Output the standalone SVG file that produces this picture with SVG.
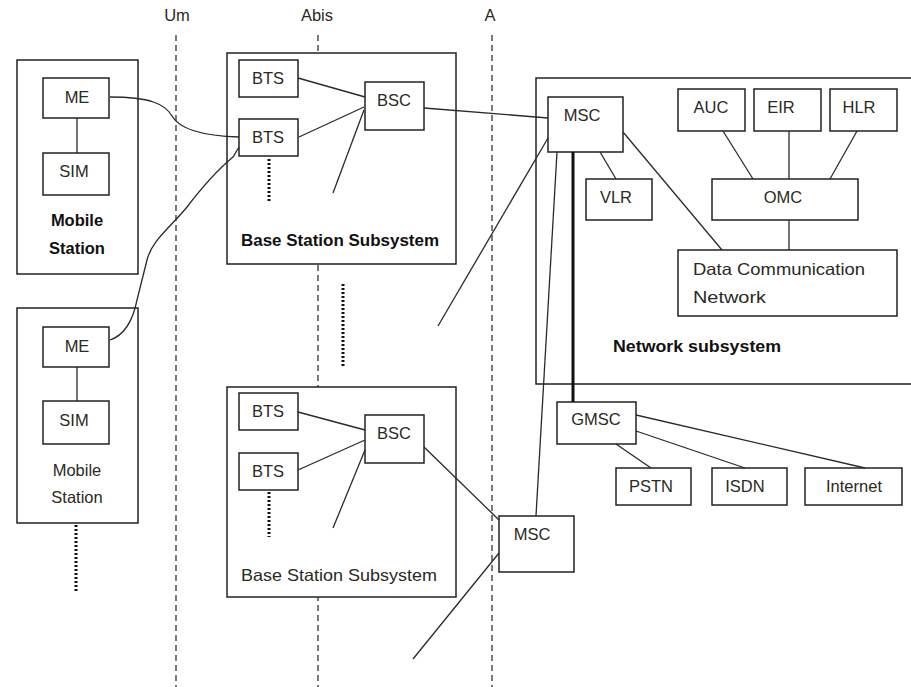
<svg xmlns="http://www.w3.org/2000/svg" width="911" height="687" viewBox="0 0 911 687">
<style>
.b{fill:#fff;stroke:#222;stroke-width:1.5}
.c{fill:none;stroke:#2a2a2a;stroke-width:1.3}
.d{fill:none;stroke:#222;stroke-width:1.2;stroke-dasharray:6 4}
.k{fill:none;stroke:#111;stroke-width:3;stroke-dasharray:2 2}
text{font-family:"Liberation Sans",Arial,sans-serif;font-size:16.5px;fill:#2a2a22}
.m{text-anchor:middle}
.bold{font-weight:bold;fill:#111}
</style>
<rect width="911" height="687" fill="#fff"/>
<g id="interfaces">
<line class="d" x1="176" y1="35" x2="176" y2="687"/>
<line class="d" x1="318" y1="35" x2="318" y2="687"/>
<line class="d" x1="492" y1="35" x2="492" y2="687"/>
<text class="m" x="177" y="21">Um</text>
<text class="m" x="317" y="21">Abis</text>
<text class="m" x="490" y="21">A</text>
</g>
<g id="ms1">
<rect class="b" x="17" y="60" width="121" height="214"/>
<text class="m bold" x="77" y="226">Mobile</text>
<text class="m bold" x="77" y="254">Station</text>
</g>
<g id="me1"><rect class="b" x="43" y="78" width="66" height="40"/><text class="m" x="77" y="103">ME</text></g>
<g id="sim1"><rect class="b" x="43" y="153" width="66" height="42"/><text class="m" x="74" y="177">SIM</text></g>
<g id="ms2">
<rect class="b" x="17" y="308" width="121" height="215"/>
<text class="m" x="77" y="476">Mobile</text>
<text class="m" x="77" y="503">Station</text>
</g>
<g id="me2"><rect class="b" x="43" y="327" width="66" height="40"/><text class="m" x="77" y="352">ME</text></g>
<g id="sim2"><rect class="b" x="43" y="401" width="66" height="43"/><text class="m" x="74" y="426">SIM</text></g>
<g id="bss1">
<rect class="b" x="227" y="53" width="229" height="211"/>
<text class="bold" x="241" y="246" textLength="198" lengthAdjust="spacingAndGlyphs">Base Station Subsystem</text>
</g>
<g id="bts1"><rect class="b" x="239" y="60" width="59" height="37"/><text class="m" x="268" y="84">BTS</text></g>
<g id="bts2"><rect class="b" x="239" y="119" width="59" height="37"/><text class="m" x="268" y="143">BTS</text></g>
<g id="bsc1"><rect class="b" x="365" y="82" width="59" height="48"/><text class="m" x="394" y="106">BSC</text></g>
<g id="bss2">
<rect class="b" x="227" y="387" width="229" height="210"/>
<text x="241" y="581" textLength="196" lengthAdjust="spacingAndGlyphs">Base Station Subsystem</text>
</g>
<g id="bts3"><rect class="b" x="239" y="393" width="59" height="37"/><text class="m" x="268" y="417">BTS</text></g>
<g id="bts4"><rect class="b" x="239" y="453" width="59" height="37"/><text class="m" x="268" y="477">BTS</text></g>
<g id="bsc2"><rect class="b" x="365" y="415" width="59" height="48"/><text class="m" x="394" y="439">BSC</text></g>
<g id="nss">
<rect class="b" x="536" y="78" width="380" height="306"/>
<text class="bold" x="613" y="352" textLength="168" lengthAdjust="spacingAndGlyphs">Network subsystem</text>
</g>
<g id="msc1"><rect class="b" x="548" y="97" width="75" height="55"/><text class="m" x="582" y="121">MSC</text></g>
<g id="vlr"><rect class="b" x="586" y="179" width="66" height="41"/><text class="m" x="616" y="203">VLR</text></g>
<g id="auc"><rect class="b" x="678" y="89" width="67" height="42"/><text class="m" x="711" y="113">AUC</text></g>
<g id="eir"><rect class="b" x="754" y="89" width="67" height="42"/><text class="m" x="781" y="113">EIR</text></g>
<g id="hlr"><rect class="b" x="830" y="89" width="67" height="42"/><text class="m" x="859" y="113">HLR</text></g>
<g id="omc"><rect class="b" x="712" y="179" width="146" height="41"/><text class="m" x="783" y="203">OMC</text></g>
<g id="dcn">
<rect class="b" x="678" y="250" width="219" height="66"/>
<text x="693" y="275" textLength="172" lengthAdjust="spacingAndGlyphs">Data Communication</text>
<text x="693" y="303" textLength="73" lengthAdjust="spacingAndGlyphs">Network</text>
</g>
<g id="gmsc"><rect class="b" x="557" y="402" width="79" height="42"/><text class="m" x="596" y="425">GMSC</text></g>
<g id="pstn"><rect class="b" x="616" y="468" width="75" height="37"/><text class="m" x="651" y="492">PSTN</text></g>
<g id="isdn"><rect class="b" x="712" y="468" width="75" height="37"/><text class="m" x="745" y="492">ISDN</text></g>
<g id="internet"><rect class="b" x="805" y="468" width="97" height="37"/><text class="m" x="854" y="492">Internet</text></g>
<g id="msc2"><rect class="b" x="499" y="516" width="75" height="56"/><text class="m" x="532" y="540">MSC</text></g>
<g id="connectors">
<line class="c" x1="77" y1="118" x2="77" y2="153"/>
<line class="c" x1="77" y1="367" x2="77" y2="401"/>
<path class="c" d="M110,97 C150,97 165,104 172,116 C180,130 205,136 239,137"/>
<path class="c" d="M239,147 L233,157 C215,172 200,190 187,207 C170,228 152,240 147,260 L137,300 C133,320 125,335 110,340"/>
<line class="c" x1="298" y1="78" x2="365" y2="97"/>
<line class="c" x1="299" y1="137" x2="364" y2="107"/>
<line class="c" x1="333" y1="193" x2="364" y2="110"/>
<line class="c" x1="298" y1="412" x2="365" y2="430"/>
<line class="c" x1="298" y1="470" x2="365" y2="440"/>
<line class="c" x1="333" y1="528" x2="365" y2="450"/>
<line class="k" x1="269" y1="159" x2="269" y2="202"/>
<line class="k" x1="343" y1="284" x2="343" y2="367"/>
<line class="k" x1="269" y1="492" x2="269" y2="537"/>
<line class="k" x1="76" y1="525" x2="76" y2="592"/>
<line class="c" x1="424" y1="108" x2="548" y2="118"/>
<line class="c" x1="548" y1="138" x2="438" y2="326"/>
<line class="c" x1="557" y1="152" x2="536" y2="516"/>
<line x1="573" y1="152" x2="573" y2="402" stroke="#111" stroke-width="3"/>
<line class="c" x1="600" y1="152" x2="616" y2="179"/>
<line class="c" x1="623" y1="132" x2="722" y2="250"/>
<line class="c" x1="723" y1="131" x2="753" y2="179"/>
<line class="c" x1="789" y1="131" x2="789" y2="179"/>
<line class="c" x1="857" y1="131" x2="830" y2="179"/>
<line class="c" x1="789" y1="220" x2="789" y2="250"/>
<line class="c" x1="616" y1="444" x2="651" y2="468"/>
<line class="c" x1="636" y1="431" x2="745" y2="468"/>
<line class="c" x1="636" y1="415" x2="865" y2="468"/>
<line class="c" x1="424" y1="447" x2="499" y2="520"/>
<line class="c" x1="499" y1="553" x2="413" y2="659"/>
</g>
</svg>
